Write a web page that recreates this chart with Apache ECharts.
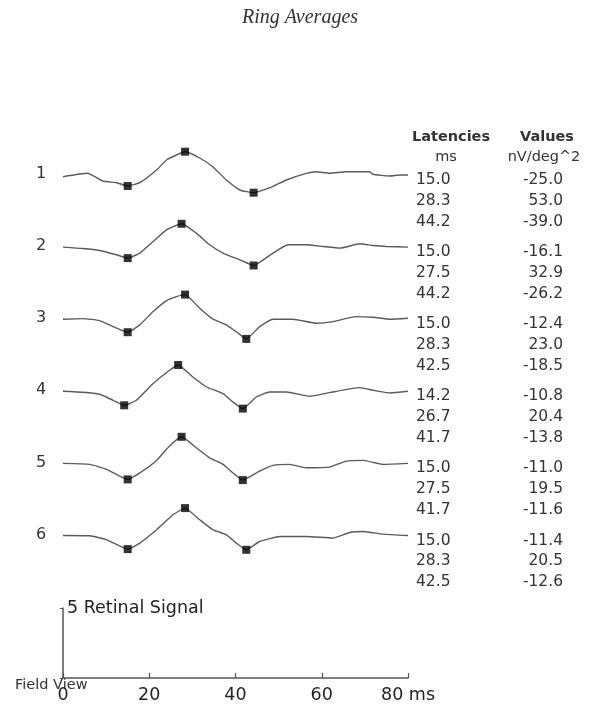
<!DOCTYPE html>
<html>
<head>
<meta charset="utf-8">
<script src="https://cdn.jsdelivr.net/npm/echarts@6/dist/echarts.min.js"></script>
<style>
html,body{margin:0;padding:0;background:#fff;}
#main{width:600px;height:710px;}
</style>
</head>
<body>
<div id="main"></div>
<script>
// ---- Data ----
const titleText = 'Ring Averages';
const ringLabels = ['1', '2', '3', '4', '5', '6'];
const xTicks = [0, 20, 40, 60, 80];
const xUnit = 'ms';
const scaleBarValue = 5;
const scaleBarLabel = 'Retinal Signal';
const fieldViewLabel = 'Field View';
const latencyHeader = ['Latencies', 'ms'];
const valueHeader = ['Values', 'nV/deg^2'];

// traces: [time ms, amplitude relative to ring baseline (display units)]
const trace1 = [[0,-1.7],[5.7,1.7],[9.2,-6],[12.5,-7.7],[15.0,-11],[17.8,-7.7],[21.7,5],[24.0,15],[26.3,20],[28.3,23.3],[31.7,17],[34.7,8.3],[37.9,-5],[41.0,-15],[44.2,-17.7],[48.6,-11.7],[51.8,-5],[56.4,1.7],[58.8,3.3],[61.8,1.7],[65.7,3.3],[71.1,3.3],[71.8,0.7],[75.8,-1],[78.1,0],[80,0]];
const trace2 = [[0,0],[4.6,-1.4],[8.5,-3.4],[12.4,-7.7],[15.0,-11],[17.8,-6],[20.9,5.6],[24.0,17.3],[27.5,23.3],[30.9,14],[34.0,2.3],[37.1,-6],[41.0,-12.7],[44.2,-18.4],[48.7,-6],[52.2,2.3],[56.4,2.3],[60.3,0.6],[64.2,-1],[68.8,3.3],[71.9,1.6],[75.0,0.6],[80,0]];
const trace3 = [[0,0],[4.6,0.6],[8.5,-1.4],[11.6,-7.4],[15.0,-13],[17.8,-5.7],[20.9,7.6],[24.0,18.6],[26.3,22.6],[28.3,24.6],[31.7,11],[34.8,0],[37.9,-5.7],[40.6,-14],[42.5,-19.7],[45.6,-7.4],[48.7,0],[53.3,0],[58.8,-4],[62.6,-2.4],[68.0,2.6],[71.9,2],[75.8,0],[80,1]];
const trace4 = [[0,0],[4.6,-1],[8.5,-3],[11.6,-9],[14.2,-14],[17.0,-9],[20.9,7.7],[24.7,21],[26.7,26.3],[30.1,14.3],[33.3,4.3],[37.1,-2.3],[39.4,-10.7],[41.7,-17.3],[44.8,-5.7],[47.9,-0.7],[51.8,-0.7],[57.2,-5],[61.8,-1.3],[68.8,3.7],[71.9,1],[75.8,-1.7],[80,0]];
const trace5 = [[0,0],[6.2,-1],[10.1,-6],[15.0,-16],[17.8,-9.4],[21.7,3],[24.7,17.3],[27.5,26.6],[30.9,15.6],[34.0,5.6],[37.1,-1],[39.4,-9.4],[41.7,-16.7],[45.6,-7.7],[48.7,-2],[52.5,-1],[56.4,-4.4],[61.8,-3.7],[65.7,2.3],[69.6,3],[74.2,-1],[80,0]];
const trace6 = [[0,0],[6.2,-0.3],[10.1,-4.3],[15.0,-13.6],[17.8,-7.6],[21.7,5.7],[25.5,20.7],[28.3,27.4],[31.7,15.7],[34.8,5.7],[37.9,0.7],[40.2,-7.6],[42.5,-14.3],[45.6,-6],[50.3,-1],[56.4,-1],[62.6,-2.6],[66.5,3],[69.6,4],[74.2,1.4],[80,0]];
const traces = [trace1, trace2, trace3, trace4, trace5, trace6];

const latencies = [
  [15.0, 28.3, 44.2],
  [15.0, 27.5, 44.2],
  [15.0, 28.3, 42.5],
  [14.2, 26.7, 41.7],
  [15.0, 27.5, 41.7],
  [15.0, 28.3, 42.5]
];
const values = [
  [-25.0, 53.0, -39.0],
  [-16.1, 32.9, -26.2],
  [-12.4, 23.0, -18.5],
  [-10.8, 20.4, -13.8],
  [-11.0, 19.5, -11.6],
  [-11.4, 20.5, -12.6]
];

// ---- Layout (display offsets) ----
const yTop = 558;          // y-axis extent of stacked display
const firstBase = 503;     // baseline of ring 1
const ringStep = 72.1;     // vertical spacing between rings
const base = i => firstBase - i * ringStep;

const FONT = "'DejaVu Sans', sans-serif";
const TXT = '#333';

const chart = echarts.init(document.getElementById('main'), null, {renderer: 'canvas'});

const series = [];
traces.forEach((tr, i) => {
  series.push({
    type: 'line',
    xAxisIndex: 0, yAxisIndex: 0,
    data: tr.map(p => [p[0], p[1] + base(i)]),
    showSymbol: false,
    smooth: 0.15,
    lineStyle: {color: '#5a5a5a', width: 1.4},
    silent: true,
    z: 2
  });
  const markers = latencies[i].map(l => {
    const pt = tr.find(p => Math.abs(p[0] - l) < 1e-6);
    return [l, pt[1] + base(i)];
  });
  series.push({
    type: 'scatter',
    xAxisIndex: 0, yAxisIndex: 0,
    data: markers,
    symbol: 'rect',
    symbolSize: 8,
    itemStyle: {color: '#000'},
    silent: true,
    z: 3
  });
});

const option = {
  animation: false,
  backgroundColor: '#fff',
  title: {
    text: titleText,
    left: 'center',
    top: 3,
    textStyle: {fontFamily: "'Liberation Serif', serif", fontStyle: 'italic', fontWeight: 'normal', fontSize: 20, color: '#333'}
  },
  grid: [
    {left: 63, right: 192, top: 120, bottom: 32},
    {left: 63, right: 192, top: 608, bottom: 32}
  ],
  xAxis: [
    {
      type: 'value', gridIndex: 0, min: 0, max: 80, interval: 20,
      axisLine: {show: true, lineStyle: {color: '#555', width: 1.5}},
      axisTick: {show: true, inside: true, length: 5, lineStyle: {color: '#555', width: 1.2}},
      axisLabel: {
        show: true, margin: 8, fontFamily: FONT, fontSize: 17.5, color: '#222',
        formatter: v => (v === xTicks[xTicks.length - 1] ? v + ' ' + xUnit : String(v))
      },
      splitLine: {show: false}
    },
    {type: 'value', gridIndex: 1, min: 0, max: 80, show: false}
  ],
  yAxis: [
    {type: 'value', gridIndex: 0, min: 0, max: yTop, show: false},
    {
      type: 'value', gridIndex: 1, min: 0, max: scaleBarValue, interval: scaleBarValue,
      axisLine: {show: true, lineStyle: {color: '#555', width: 1.5}},
      axisTick: {show: true, length: 3, lineStyle: {color: '#555', width: 1}},
      axisLabel: {
        show: true, inside: true, margin: 4, fontFamily: FONT, fontSize: 17.5, color: '#222',
        formatter: v => (v === scaleBarValue ? scaleBarValue + ' ' + scaleBarLabel : '')
      },
      splitLine: {show: false}
    }
  ],
  series: series
};
chart.setOption(option);

// ---- Text labels positioned from the axis scales ----
const g = [];
const latX = 416, valRight = 563;
const rowStep = 20.8;
ringLabels.forEach((lab, i) => {
  const p = chart.convertToPixel({gridIndex: 0}, [0, base(i)]);
  g.push({type: 'text', left: 36, top: p[1] - 9,
    style: {text: lab, font: "16px " + FONT, fill: TXT}});
  latencies[i].forEach((l, k) => {
    const y = p[1] + 5 + k * rowStep;
    g.push({type: 'text', x: latX, y: y,
      style: {text: l.toFixed(1), font: "15.5px " + FONT, fill: TXT, textAlign: 'left', textVerticalAlign: 'middle'}});
    g.push({type: 'text', x: valRight, y: y,
      style: {text: values[i][k].toFixed(1), font: "15.5px " + FONT, fill: TXT, textAlign: 'right', textVerticalAlign: 'middle'}});
  });
});
g.push({type: 'text', x: 451, y: 137.5, style: {text: latencyHeader[0], font: "bold 14.5px " + FONT, fill: TXT, textAlign: 'center', textVerticalAlign: 'middle'}});
g.push({type: 'text', x: 446, y: 157.5, style: {text: latencyHeader[1], font: "14.5px " + FONT, fill: TXT, textAlign: 'center', textVerticalAlign: 'middle'}});
g.push({type: 'text', x: 547, y: 137.5, style: {text: valueHeader[0], font: "bold 14.5px " + FONT, fill: TXT, textAlign: 'center', textVerticalAlign: 'middle'}});
g.push({type: 'text', x: 544, y: 157.5, style: {text: valueHeader[1], font: "14.5px " + FONT, fill: TXT, textAlign: 'center', textVerticalAlign: 'middle'}});
const axisPt = chart.convertToPixel({gridIndex: 0}, [0, 0]);
g.push({type: 'text', x: 15, y: axisPt[1] + 7, style: {text: fieldViewLabel, font: "14.5px " + FONT, fill: TXT, textAlign: 'left', textVerticalAlign: 'middle'}});
chart.setOption({graphic: g});
</script>
</body>
</html>
